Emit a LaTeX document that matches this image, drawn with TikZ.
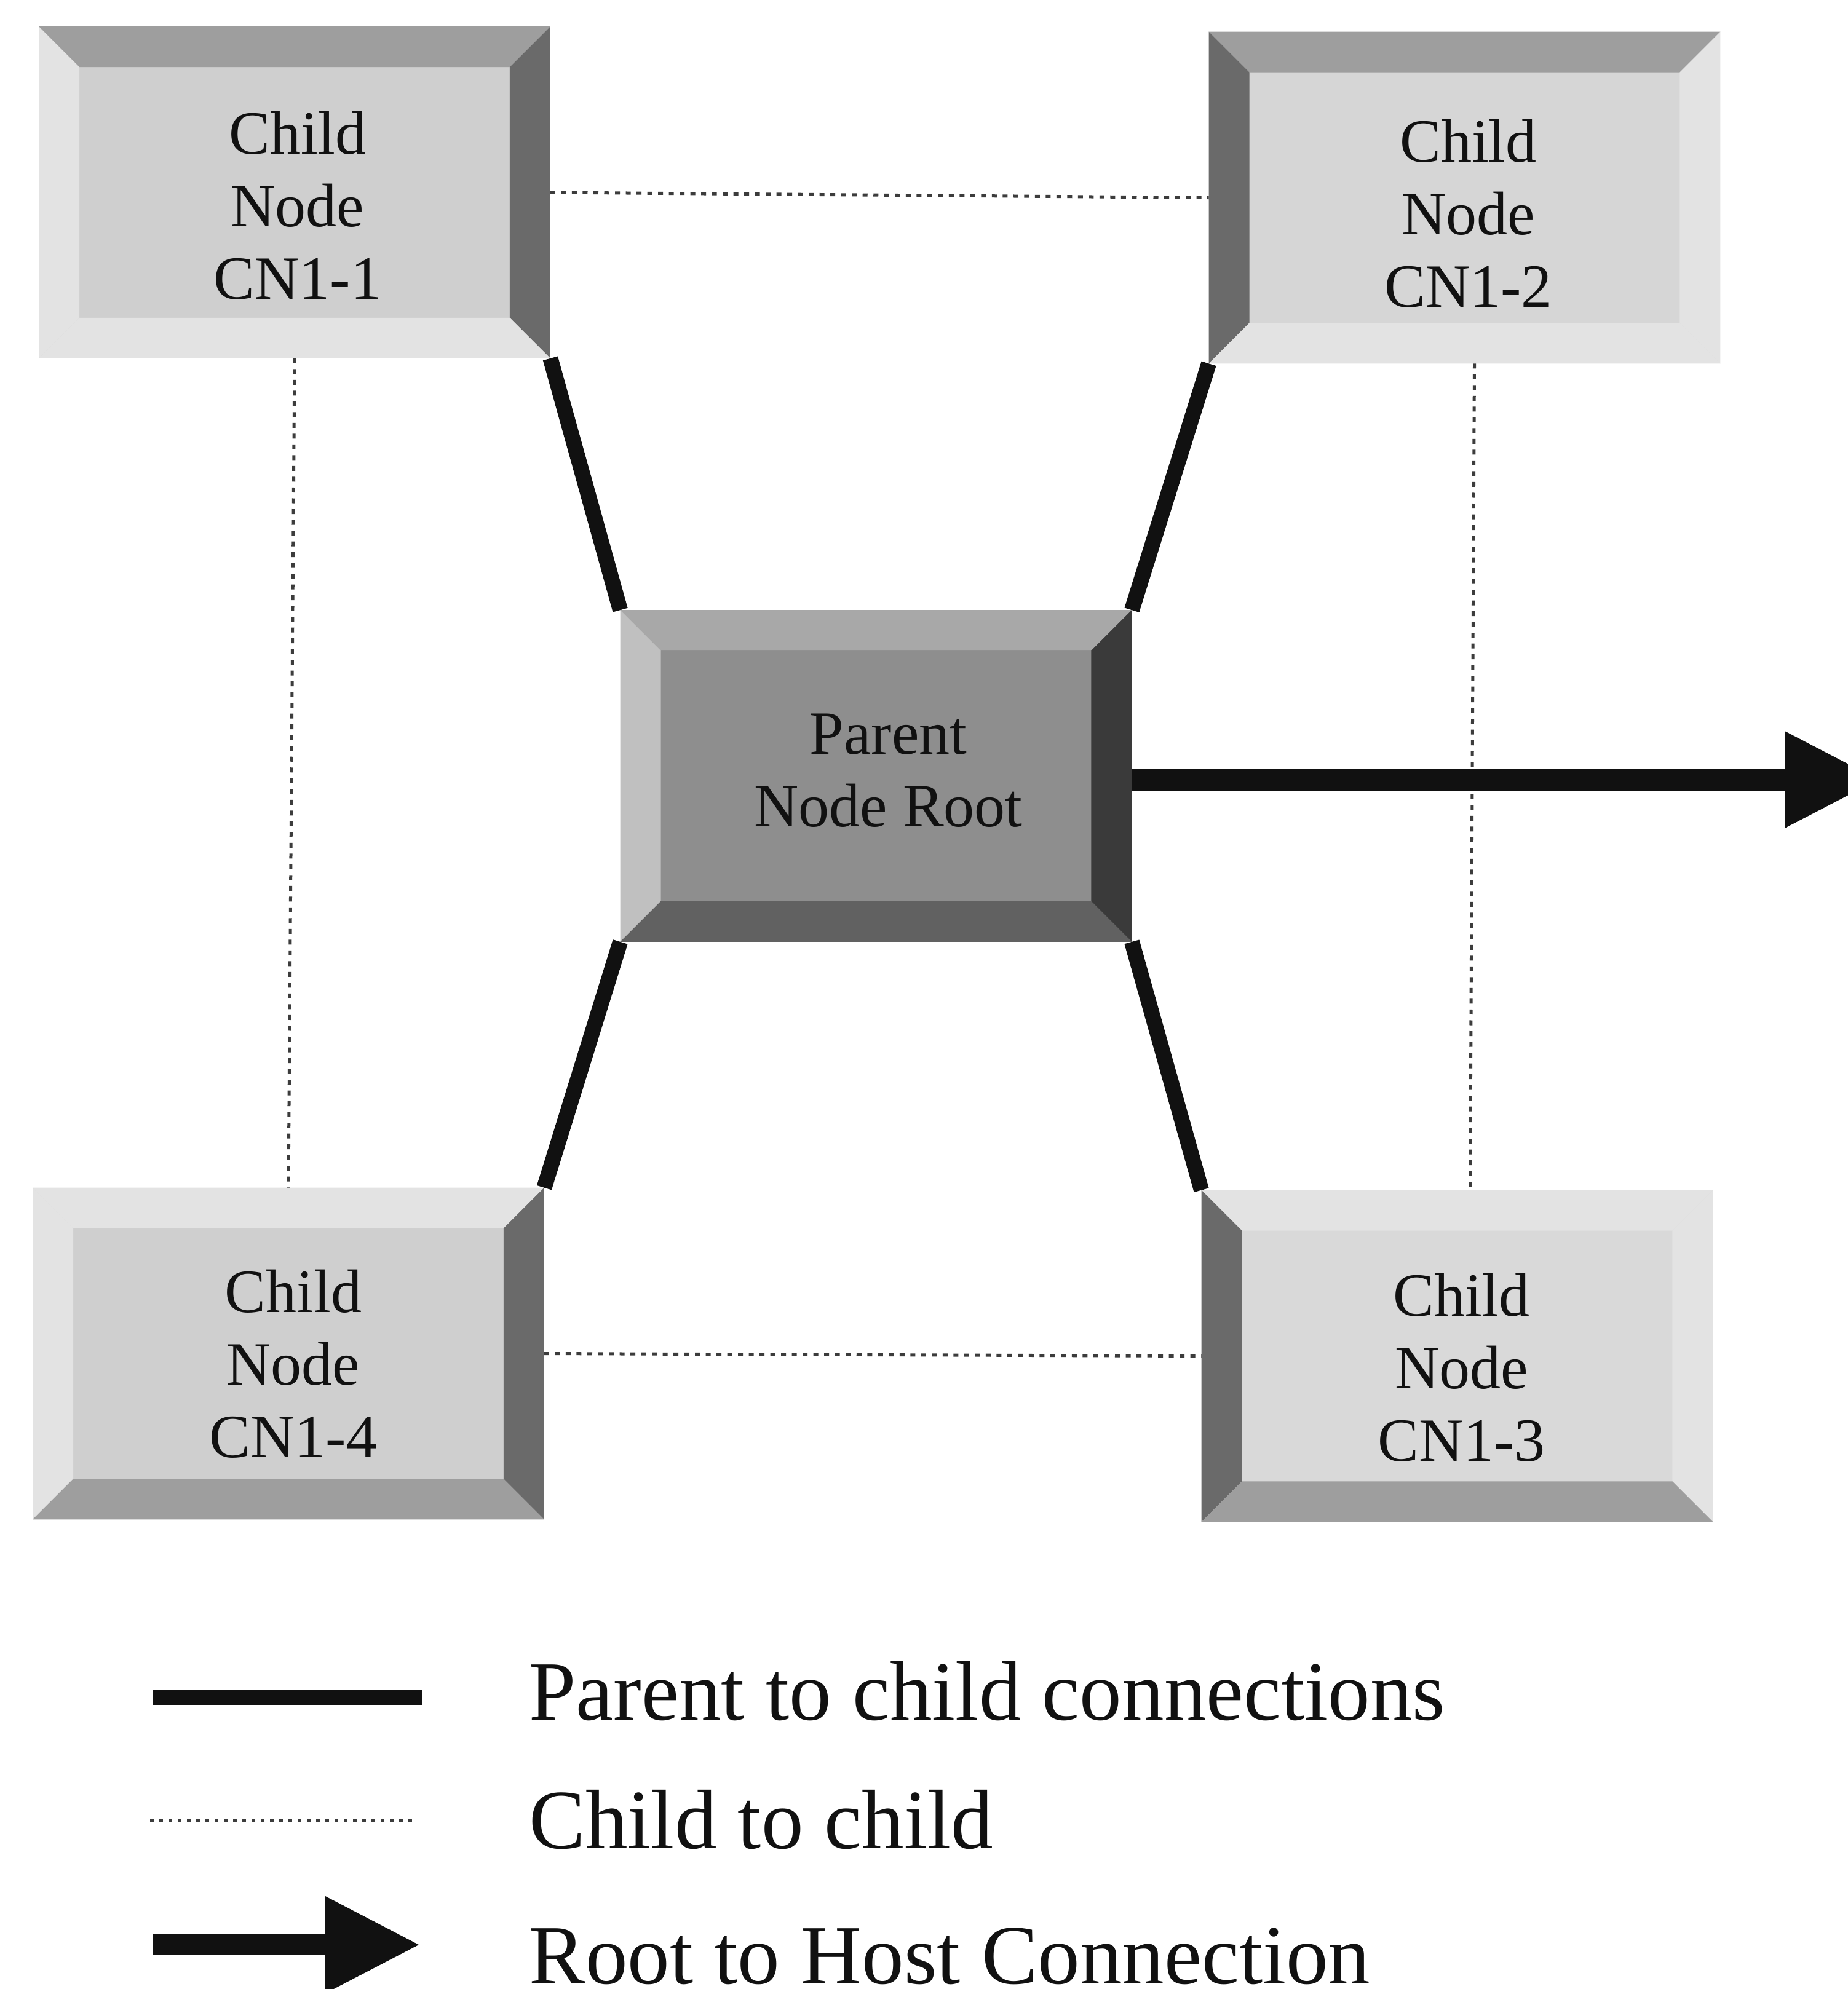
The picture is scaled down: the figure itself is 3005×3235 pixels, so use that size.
\documentclass[tikz,border=0pt]{standalone}
\usepackage{fontspec}
\setmainfont{Liberation Serif}
\usetikzlibrary{arrows.meta}

% shades used for the bevelled boxes
\definecolor{faceA}{HTML}{CFCFCF}
\definecolor{faceB}{HTML}{D6D6D6}
\definecolor{faceC}{HTML}{D9D9D9}
\definecolor{bevLight}{HTML}{E3E3E3}
\definecolor{bevMid}{HTML}{9E9E9E}
\definecolor{bevDark}{HTML}{6A6A6A}
\definecolor{rootFace}{HTML}{8E8E8E}
\definecolor{rootTop}{HTML}{A8A8A8}
\definecolor{rootLeft}{HTML}{C0C0C0}
\definecolor{rootRight}{HTML}{3A3A3A}
\definecolor{rootBottom}{HTML}{616161}
\definecolor{ink}{HTML}{111111}
\definecolor{dotink}{HTML}{3C3C3C}

% bevelled frame over an empty node: #1 node, #2 face, #3 top, #4 left, #5 right, #6 bottom
\newcommand\bevelbox[6]{%
  \fill[#2] (#1.north west) rectangle (#1.south east);
  \fill[#3] (#1.north west) -- (#1.north east) -- ([shift={(-66,66)}]#1.north east)
            -- ([shift={(66,66)}]#1.north west) -- cycle;
  \fill[#4] (#1.north west) -- ([shift={(66,66)}]#1.north west)
            -- ([shift={(66,-66)}]#1.south west) -- (#1.south west) -- cycle;
  \fill[#5] (#1.north east) -- ([shift={(-66,66)}]#1.north east)
            -- ([shift={(-66,-66)}]#1.south east) -- (#1.south east) -- cycle;
  \fill[#6] (#1.south west) -- (#1.south east) -- ([shift={(-66,-66)}]#1.south east)
            -- ([shift={(66,-66)}]#1.south west) -- cycle;
}

\begin{document}
\begin{tikzpicture}[
  x=0.01cm, y=-0.01cm,
  box/.style={rectangle, inner sep=0pt, minimum width=8.30cm, minimum height=5.38cm},
  lbl/.style={font=\fontsize{28.45pt}{33.6pt}\selectfont, align=center, inner sep=0pt, text=ink},
  legendtext/.style={font=\fontsize{39pt}{45pt}\selectfont, anchor=base west, inner sep=0pt, text=ink},
  pcline/.style={draw=ink, line width=0.25cm},
  cclink/.style={draw=dotink, line width=0.05cm, dash pattern=on 0.08cm off 0.095cm},
  legenddots/.style={draw=dotink, line width=0.06cm, dash pattern=on 0.06cm off 0.09cm},
  hostarrow/.style={draw=ink, line width=0.37cm,
    -{Triangle[length=1.51cm, width=1.57cm, line width=0pt]}},
  legendarrow/.style={draw=ink, line width=0.34cm,
    -{Triangle[length=1.52cm, width=1.58cm, line width=0pt]}},
]
\clip (0,0) rectangle (3005,3235);
\fill[white] (0,0) rectangle (3005,3235);

% boxes
\node[box] (c1)   at (479,313)      {};
\node[box] (c2)   at (2381.5,321.5) {};
\node[box] (root) at (1424.5,1262)  {};
\node[box] (c4)   at (469,2201.5)   {};
\node[box] (c3)   at (2369.5,2205.5){};

\bevelbox{c1}{faceA}{bevMid}{bevLight}{bevDark}{bevLight}
\bevelbox{c2}{faceB}{bevMid}{bevDark}{bevLight}{bevLight}
\bevelbox{c4}{faceA}{bevLight}{bevLight}{bevDark}{bevMid}
\bevelbox{c3}{faceC}{bevLight}{bevDark}{bevLight}{bevMid}
\bevelbox{root}{rootFace}{rootTop}{rootLeft}{rootRight}{rootBottom}

% box labels
\node[lbl] (c1t)   at ([shift={(5,21)}]c1.center)   {Child\\Node\\CN1-1};
\node[lbl] (c2t)   at ([shift={(6,26)}]c2.center)   {Child\\Node\\CN1-2};
\node[lbl] (c4t)   at ([shift={(8,17)}]c4.center)   {Child\\Node\\CN1-4};
\node[lbl] (c3t)   at ([shift={(7,19)}]c3.center)   {Child\\Node\\CN1-3};
\node[lbl] (roott) at ([shift={(20,-9)}]root.center) {Parent\\Node Root};

% child to child links
\draw[cclink] (c1.east) -- (c2.west);
\draw[cclink] (c4.east) -- (c3.west);
\draw[cclink] (c1.south) -- (c4.north);
\draw[cclink] ([xshift=0.16cm]c2.south) -- ([xshift=0.21cm]c3.north);

% parent to child links
\draw[pcline] (c1.south east) -- (root.north west);
\draw[pcline] (c2.south west) -- (root.north east);
\draw[pcline] (root.south west) -- (c4.north east);
\draw[pcline] (root.south east) -- (c3.north west);

% root to host
\coordinate (host) at (3054,1268);
\draw[hostarrow] (root.east |- host) -- (host);

% legend
\coordinate (l1a) at (248,2760);
\coordinate (l1b) at (686,2760);
\coordinate (l2a) at (244,2961);
\coordinate (l2b) at (680,2961);
\coordinate (l3a) at (248,3163);
\coordinate (l3b) at (681,3163);
\draw[pcline] (l1a) -- (l1b);
\draw[legenddots] (l2a) -- (l2b);
\draw[legendarrow] (l3a) -- (l3b);
\node[legendtext] (lg1) at (860,2797) {Parent to child connections};
\node[legendtext] (lg2) at (860,3006) {Child to child};
\node[legendtext] (lg3) at (860,3226) {Root to Host Connection};
\end{tikzpicture}
\end{document}
